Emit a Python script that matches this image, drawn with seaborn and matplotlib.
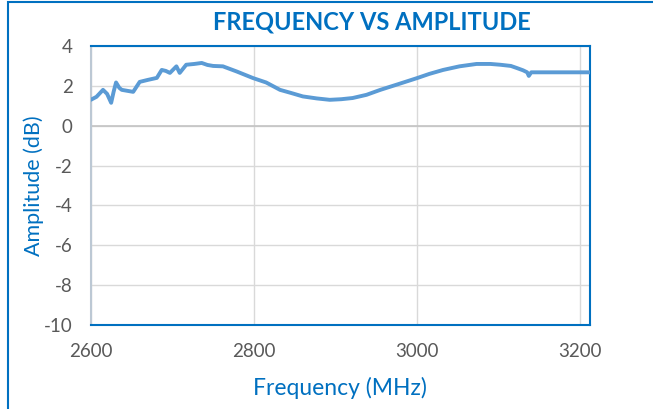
import matplotlib
matplotlib.use("Agg")
import matplotlib.pyplot as plt
from matplotlib.patches import Rectangle
import pandas as pd
import seaborn as sns

# --- data ---
freq_mhz = [2600, 2607, 2615, 2620, 2625, 2628, 2631, 2635, 2638, 2645, 2652,
            2660, 2670, 2681, 2687, 2692, 2697, 2705, 2709, 2717, 2727, 2736,
            2743, 2750, 2762, 2779, 2799, 2815, 2832, 2845, 2860, 2877, 2893,
            2907, 2921, 2938, 2955, 2978, 3000, 3015, 3032, 3052, 3073, 3090,
            3102, 3115, 3122, 3130, 3135, 3137, 3140, 3160, 3180, 3200, 3212]
amp_db = [1.3, 1.45, 1.8, 1.6, 1.15, 1.7, 2.17, 1.9, 1.8, 1.75, 1.7,
          2.2, 2.3, 2.4, 2.8, 2.75, 2.65, 2.98, 2.65, 3.06, 3.1, 3.15,
          3.05, 3.0, 2.98, 2.72, 2.39, 2.17, 1.8, 1.65, 1.47, 1.37, 1.3,
          1.33, 1.39, 1.55, 1.8, 2.1, 2.39, 2.6, 2.8, 2.98, 3.1, 3.1,
          3.06, 3.0, 2.9, 2.78, 2.68, 2.5, 2.68, 2.68, 2.68, 2.68, 2.68]

x_ticks = [2600, 2800, 3000, 3200]
y_ticks = [4, 2, 0, -2, -4, -6, -8, -10]

df = pd.DataFrame({"freq": freq_mhz, "amp": amp_db})

sns.set_style("white")
plt.rcParams["font.family"] = ["Lato", "DejaVu Sans"]
plt.rcParams["axes.unicode_minus"] = False

line_blue = "#5B9BD5"
dark_blue = "#0070C0"
grid_grey = "#D9D9D9"
tick_grey = "#595959"

fig = plt.figure(figsize=(6.53, 4.09), dpi=100)
ax = fig.add_axes([0.139, 0.2054, 0.7645, 0.6821])

ax.axhline(0, color="#C4C4C4", linewidth=1.2, zorder=1)
sns.lineplot(data=df, x="freq", y="amp", ax=ax, color=line_blue, linewidth=2.8,
             zorder=3)

ax.set_xlim(2600, 3212)
ax.set_ylim(-10, 4)
ax.set_xticks(x_ticks)
ax.set_yticks(y_ticks)
ax.grid(True, color=grid_grey, linewidth=1)
ax.set_axisbelow(True)

for side in ["top", "bottom", "left", "right"]:
    ax.spines[side].set_visible(True)
    ax.spines[side].set_color(dark_blue)
    ax.spines[side].set_linewidth(1.5)
ax.spines["left"].set_color("#BCC8D4")

ax.tick_params(axis="both", length=0, labelsize=13.5, labelcolor=tick_grey)
ax.tick_params(axis="y", pad=13)
ax.tick_params(axis="x", pad=13)

ax.set_xlabel("Frequency (MHz)", color=dark_blue, fontsize=16.5, labelpad=12)
ax.set_ylabel("Amplitude (dB)", color=dark_blue, fontsize=15.5, labelpad=0)
ax.set_title("FREQUENCY VS AMPLITUDE", color=dark_blue, fontsize=17,
             fontweight="bold", x=0.563, pad=12)

# outer chart frame
fig.patches.append(Rectangle((8 / 653, -0.1), 1.2, 1.1 - 2 / 409,
                             transform=fig.transFigure, fill=False,
                             edgecolor=dark_blue, linewidth=1.5))

fig.savefig("out.png", dpi=100)
